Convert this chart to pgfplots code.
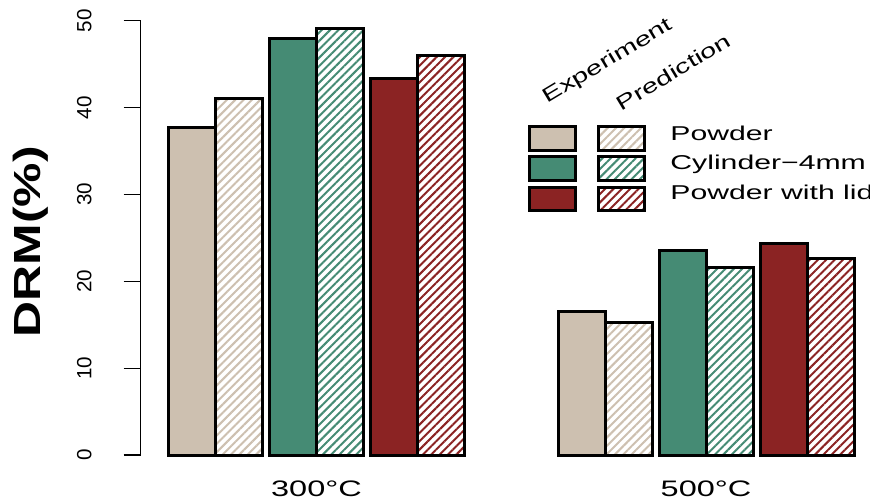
\documentclass[border=0pt]{standalone}
\usepackage{fontspec}
\setmainfont{Liberation Sans}
\newfontfamily\widefont{Liberation Sans}[FakeStretch=1.45]
\newfontfamily\legfont{Liberation Sans}[FakeStretch=1.51]
\newfontfamily\drmfont{Liberation Sans}[FakeStretch=1.32]
\usepackage{pgfplots}
\pgfplotsset{compat=1.18}
\usetikzlibrary{patterns.meta}
\definecolor{cpow}{HTML}{CDC0B0}
\definecolor{ccyl}{HTML}{458B74}
\definecolor{clid}{HTML}{8B2323}
\tikzset{
  expbar/.style={draw=black, line width=1.5pt, fill=#1},
  predbar/.style={draw=black, line width=1.5pt,
    preaction={fill=white},
    preaction={pattern={Lines[angle=45, distance=2.95pt, line width=1pt]}, pattern color=#1}},
}
\begin{document}
\begin{tikzpicture}
\begin{axis}[
  scale only axis, width=364.75pt, height=217.15pt,
  xmin=140.5, xmax=870, ymin=0, ymax=50,
  axis y line*=left, axis x line*=bottom,
  x axis line style={draw=none},
  y axis line style={-, line width=0.6pt},
  ytick={0,10,20,30,40,50},
  xtick={316.5,706}, xticklabels={300°C,500°C},
  xtick style={draw=none},
  ytick style={line width=0.6pt, black},
  tick align=outside, major tick length=8.5pt,
  /pgf/number format/assume math mode=true,
  yticklabel style={font=\fontsize{10.3}{12}\selectfont, xshift=-16pt, rotate=90, anchor=base, inner sep=0pt},
  xticklabel style={font=\widefont\fontsize{11.2}{13}\selectfont, anchor=base, inner sep=0pt, yshift=-12pt},
  ylabel={DRM(\%)},
  ylabel style={font=\drmfont\bfseries\fontsize{18.9}{22}\selectfont, at={(rel axis cs:-0.1505,0.491)}, anchor=center, rotate=0},
  clip=false,
]
% Experiment: Powder
\addplot[ybar, bar width=47, bar shift=0pt, expbar=cpow] coordinates {(192,37.7) (581.5,16.5)};
% Prediction: Powder
\addplot[ybar, bar width=47, bar shift=0pt, predbar=cpow] coordinates {(239,41.0) (628.5,15.3)};
% Experiment: Cylinder-4mm
\addplot[ybar, bar width=47, bar shift=0pt, expbar=ccyl] coordinates {(293,47.9) (682.5,23.5)};
% Prediction: Cylinder-4mm
\addplot[ybar, bar width=47, bar shift=0pt, predbar=ccyl] coordinates {(340,49.1) (729.5,21.6)};
% Experiment: Powder with lid
\addplot[ybar, bar width=47, bar shift=0pt, expbar=clid] coordinates {(394,43.4) (783.5,24.3)};
% Prediction: Powder with lid
\addplot[ybar, bar width=47, bar shift=0pt, predbar=clid] coordinates {(441,46.0) (830.5,22.6)};

% legend
\draw[expbar=cpow] (axis cs:529.8,35.09) rectangle (axis cs:575.2,37.82);
\draw[predbar=cpow] (axis cs:598.8,35.09) rectangle (axis cs:644.5,37.82);
\draw[expbar=ccyl] (axis cs:529.8,31.64) rectangle (axis cs:575.2,34.37);
\draw[predbar=ccyl] (axis cs:598.8,31.64) rectangle (axis cs:644.5,34.37);
\draw[expbar=clid] (axis cs:529.8,28.11) rectangle (axis cs:575.2,30.83);
\draw[predbar=clid] (axis cs:598.8,28.11) rectangle (axis cs:644.5,30.83);
\node[anchor=base west, inner sep=0pt, font=\legfont\fontsize{10}{12}\selectfont] at (axis cs:670,36.19) {Powder};
\node[anchor=base west, inner sep=0pt, font=\legfont\fontsize{10}{12}\selectfont] at (axis cs:670,32.89) {Cylinder−4mm};
\node[anchor=base west, inner sep=0pt, font=\legfont\fontsize{10}{12}\selectfont] at (axis cs:670,29.36) {Powder with lid};
\node[anchor=base west, inner sep=0pt, rotate=31, font=\widefont\fontsize{10}{12}\selectfont] at (axis cs:547.5,40.40) {Experiment};
\node[anchor=base west, inner sep=0pt, rotate=31, font=\widefont\fontsize{10}{12}\selectfont] at (axis cs:621.5,39.55) {Prediction};

\coordinate (bl) at (axis cs:0,-5.411);
\coordinate (tr) at (axis cs:870,52.383);
\end{axis}
\pgfresetboundingbox
\useasboundingbox (bl) rectangle (tr);
\end{tikzpicture}
\end{document}
